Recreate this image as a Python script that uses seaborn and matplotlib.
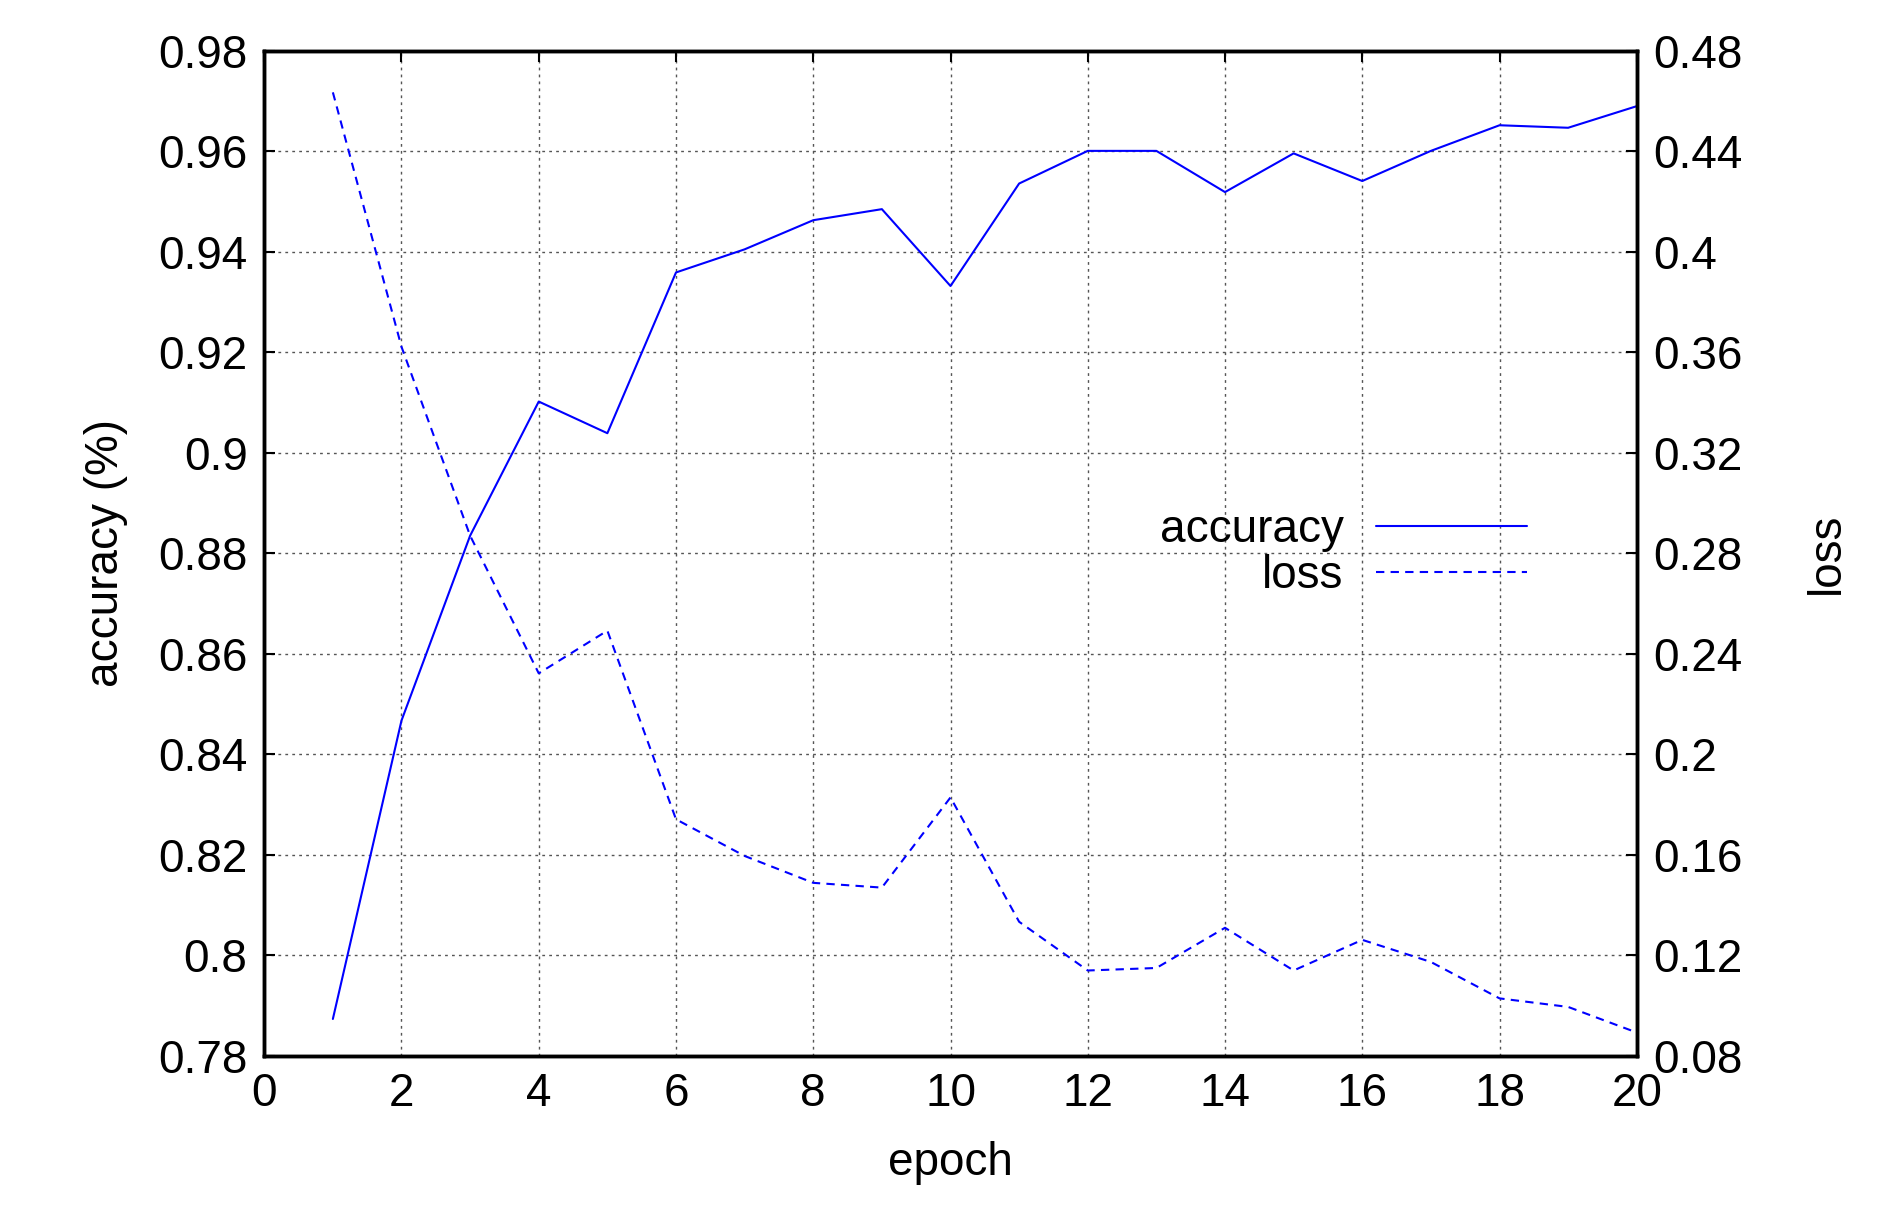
import matplotlib
matplotlib.use("Agg")
import matplotlib.pyplot as plt
import seaborn as sns
import pandas as pd

epochs = list(range(1, 21))
accuracy = [0.7873, 0.8467, 0.8835, 0.9102, 0.9039, 0.9359, 0.9405, 0.9463, 0.9485, 0.9332,
            0.9536, 0.9601, 0.9601, 0.9519, 0.9596, 0.9541, 0.9601, 0.9652, 0.9647, 0.9690]
loss = [0.4635, 0.3622, 0.2870, 0.2322, 0.2492, 0.1741, 0.1595, 0.1488, 0.1469, 0.1828,
        0.1333, 0.1139, 0.1149, 0.1309, 0.1139, 0.1261, 0.1173, 0.1028, 0.0994, 0.0892]

sns.set_style("white")
plt.rcParams['font.family'] = ['Liberation Sans', 'DejaVu Sans']
plt.rcParams['font.size'] = 33
plt.rcParams['text.color'] = 'black'
plt.rcParams['axes.labelcolor'] = 'black'
plt.rcParams['xtick.color'] = 'black'
plt.rcParams['ytick.color'] = 'black'

df = pd.DataFrame({"epoch": epochs, "accuracy": accuracy, "loss": loss})

fig = plt.figure(figsize=(19.01, 12.12), dpi=100)
ax = fig.add_axes([0.139, 0.129, 0.722, 0.829])
ax2 = ax.twinx()

sns.lineplot(data=df, x="epoch", y="accuracy", ax=ax, color="blue", lw=1.5, label="accuracy", legend=False)
sns.lineplot(data=df, x="epoch", y="loss", ax=ax2, color="blue", lw=1.5, linestyle=(0, (4, 3)), label="loss", legend=False)

ax.set_xlim(0, 20)
ax.set_ylim(0.78, 0.98)
ax2.set_ylim(0.08, 0.48)
ax.set_xticks(range(0, 21, 2))
ax.set_yticks([0.78 + 0.02 * i for i in range(11)])
ax.set_yticklabels(["0.78", "0.8", "0.82", "0.84", "0.86", "0.88", "0.9", "0.92", "0.94", "0.96", "0.98"])
ax2.set_yticks([0.08 + 0.04 * i for i in range(11)])
ax2.set_yticklabels(["0.08", "0.12", "0.16", "0.2", "0.24", "0.28", "0.32", "0.36", "0.4", "0.44", "0.48"])
ax.grid(True, color="#555555", linestyle=(0, (2, 3)), lw=1)
ax.set_xlabel("epoch", labelpad=18)
ax.set_ylabel("accuracy (%)", labelpad=22)
ax2.set_ylabel("loss", labelpad=45)
for a in (ax, ax2):
    for s in a.spines.values():
        s.set_linewidth(2.5)
        s.set_color("black")
    a.tick_params(direction="in", length=8, width=1.5, pad=12)
ax.tick_params(top=True)

h1, l1 = ax.get_legend_handles_labels()
h2, l2 = ax2.get_legend_handles_labels()
ax2.legend(h1 + h2, l1 + l2, loc="center right", bbox_to_anchor=(0.95, 0.5), frameon=False,
           markerfirst=False, handlelength=3.3, labelspacing=0.05, handletextpad=0.7)

fig.savefig("out.png", dpi=100)
